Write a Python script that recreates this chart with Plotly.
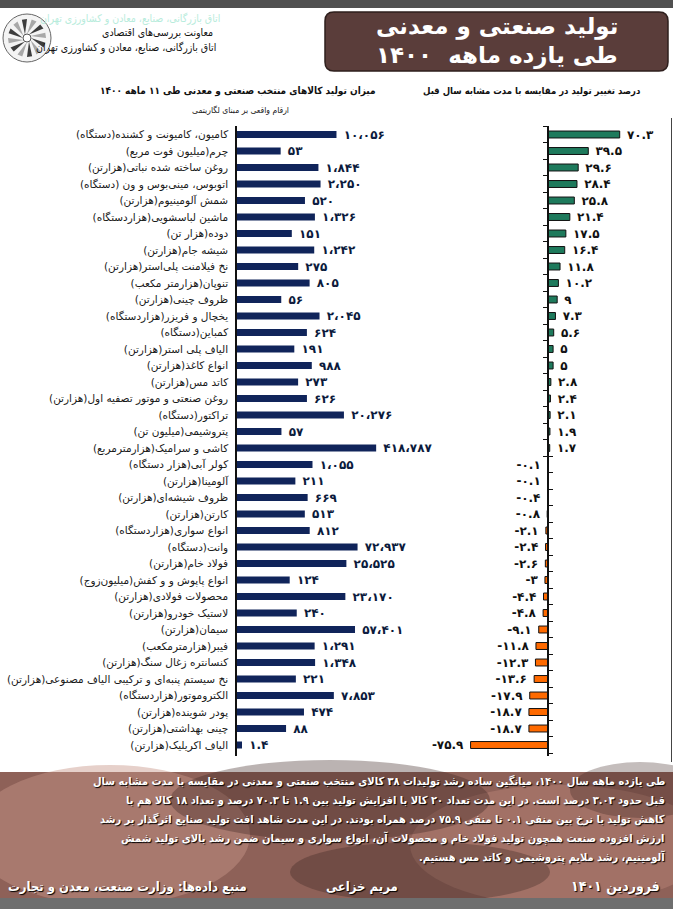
import math
import plotly.graph_objects as go

# ---------------- data ----------------
categories = [
    "کامیون، کامیونت و کشنده(دستگاه)",
    "چرم(میلیون فوت مربع)",
    "روغن ساخته شده نباتی(هزارتن)",
    "اتوبوس، مینی‌بوس و ون (دستگاه)",
    "شمش آلومینیوم(هزارتن)",
    "ماشین لباسشویی(هزاردستگاه)",
    "دوده(هزار تن)",
    "شیشه جام(هزارتن)",
    "نخ فیلامنت پلی‌استر(هزارتن)",
    "تنوپان(هزارمتر مکعب)",
    "ظروف چینی(هزارتن)",
    "یخچال و فریزر(هزاردستگاه)",
    "کمباین(دستگاه)",
    "الیاف پلی استر(هزارتن)",
    "انواع کاغذ(هزارتن)",
    "کاتد مس(هزارتن)",
    "روغن صنعتی و موتور تصفیه اول(هزارتن)",
    "تراکتور(دستگاه)",
    "پتروشیمی(میلیون تن)",
    "کاشی و سرامیک(هزارمترمربع)",
    "کولر آبی(هزار دستگاه)",
    "آلومینا(هزارتن)",
    "ظروف شیشه‌ای(هزارتن)",
    "کارتن(هزارتن)",
    "انواع سواری(هزاردستگاه)",
    "وانت(دستگاه)",
    "فولاد خام(هزارتن)",
    "انواع پاپوش و و کفش(میلیون‌زوج)",
    "محصولات فولادی(هزارتن)",
    "لاستیک خودرو(هزارتن)",
    "سیمان(هزارتن)",
    "فیبر(هزارمترمکعب)",
    "کنسانتره زغال سنگ(هزارتن)",
    "نخ سیستم پنبه‌ای و ترکیبی الیاف مصنوعی(هزارتن)",
    "الکتروموتور(هزاردستگاه)",
    "پودر شوینده(هزارتن)",
    "چینی بهداشتی(هزارتن)",
    "الیاف اکریلیک(هزارتن)",
]

production = [10056, 53, 1844, 2250, 520, 1326, 151, 1242, 275, 805,
              56, 2045, 624, 191, 988, 273, 626, 20276, 57, 418787,
              1055, 211, 669, 513, 812, 72937, 25525, 124, 23170, 240,
              57401, 1291, 1348, 221, 7853, 474, 88, 1.4]

change_pct = [70.3, 39.5, 29.6, 28.4, 25.8, 21.4, 17.5, 16.4, 11.8, 10.2,
              9, 7.3, 5.6, 5, 5, 2.8, 2.4, 2.1, 1.9, 1.7,
              -0.1, -0.1, -0.4, -0.8, -2.1, -2.4, -2.6, -3, -4.4, -4.8,
              -9.1, -11.8, -12.3, -13.6, -17.9, -18.7, -18.7, -75.9]

# ---------------- helpers ----------------
W, H = 673, 909
FONT = "DejaVu Sans"
FONTC = "DejaVu Sans Condensed"
RLM = "\u200f"
FA = str.maketrans("0123456789", "۰۱۲۳۴۵۶۷۸۹")


def fa(s):
    return str(s).translate(FA)


def px(x):
    return x / W


def py(y):
    return 1 - y / H


def fmt_prod(v):
    if float(v).is_integer():
        return fa(f"{int(v):,}".replace(",", "،"))
    return fa(f"{v}")


idx = list(range(len(categories)))
prod_text = [" " + fmt_prod(v) for v in production]
chg_text = [(" " + fa(f"{v:g}")) if v >= 0 else (fa(f"{v:g}") + " ")
            for v in change_pct]
chg_colors = ["#1e7a5c" if v >= 0 else "#ff6a00" for v in change_pct]
labels = [RLM + c + RLM for c in categories]

row0, step = 134.5, 16.5
top_px, bot_px = 126, 756
yr = [(bot_px - row0) / step, (top_px - row0) / step]
ydom = [py(bot_px), py(top_px)]

fig = go.Figure()

fig.add_trace(go.Bar(
    x=production, y=idx, orientation="h", xaxis="x", yaxis="y",
    marker=dict(color="#10245a", line=dict(width=0)), width=0.42,
    text=prod_text, textposition="outside", cliponaxis=False, constraintext="none",
    textfont=dict(family=FONT, size=12, color="#0b1a3c", weight="bold"),
    hoverinfo="skip", showlegend=False,
))

fig.add_trace(go.Bar(
    x=change_pct, y=idx, orientation="h", xaxis="x2", yaxis="y2",
    marker=dict(color=chg_colors, line=dict(color="#111", width=1)), width=0.42,
    text=chg_text, textposition="outside", cliponaxis=False, constraintext="none",
    textfont=dict(family=FONT, size=12, color="#111", weight="bold"),
    hoverinfo="skip", showlegend=False,
))
fig.add_trace(go.Scatter(x=[None], y=[None], xaxis="x2", yaxis="y3",
                         showlegend=False, hoverinfo="skip"))

lx0 = -0.058
lx1 = lx0 + (420 - 237) / 24.5
zero_px, ppu = 548, 1.02
x2r = [-(zero_px - 430) / ppu, (670 - zero_px) / ppu]

bounds_top = [i - 0.5 for i in range(0, 21)]
bounds_bot = [i + 0.5 for i in range(19, 38)]

fig.update_layout(
    width=W, height=H, margin=dict(l=0, r=0, t=0, b=0),
    paper_bgcolor="white", plot_bgcolor="rgba(0,0,0,0)",
    font=dict(family=FONT, color="#222"),
    xaxis=dict(type="log", domain=[px(237), px(420)], range=[lx0, lx1],
               visible=False, anchor="y"),
    yaxis=dict(domain=ydom, range=yr, anchor="x", tickmode="array",
               tickvals=idx, ticktext=labels, ticks="", showline=True,
               linecolor="#111", linewidth=1.5, showgrid=False, zeroline=False,
               ticklabelstandoff=5,
               tickfont=dict(family=FONT, size=10.5, color="#1a1a1a")),
    xaxis2=dict(domain=[px(430), px(670)], range=x2r, visible=False,
                anchor="y2", zeroline=False),
    yaxis2=dict(domain=ydom, range=yr, anchor="free", position=px(zero_px),
                tickmode="array", tickvals=bounds_top, ticks="outside",
                ticklen=4, tickcolor="#111", showticklabels=False,
                showline=True, linecolor="#111", linewidth=1.5,
                showgrid=False, zeroline=False),
    yaxis3=dict(domain=ydom, range=yr, anchor="free", position=px(zero_px),
                overlaying="y2", tickmode="array", tickvals=bounds_bot,
                ticks="inside", ticklen=4, tickcolor="#111",
                showticklabels=False, showline=False, showgrid=False,
                zeroline=False),
)

shapes = []
shapes.append(dict(type="rect", xref="paper", yref="paper", x0=0, x1=1,
                   y0=py(8), y1=1, fillcolor="#505050", line=dict(width=0)))
shapes.append(dict(type="line", xref="paper", yref="paper", x0=px(671.5), x1=px(671.5),
                   y0=py(762), y1=py(118), line=dict(color="#444", width=1)))

bx0, bx1, by0, by1, r = 325, 668, 12, 71, 9


def P(x, y):
    return f"{px(x):.5f},{py(y):.5f}"


path = (f"M {P(bx0 + r, by0)} L {P(bx1 - r, by0)} Q {P(bx1, by0)} {P(bx1, by0 + r)} "
        f"L {P(bx1, by1 - r)} Q {P(bx1, by1)} {P(bx1 - r, by1)} "
        f"L {P(bx0 + r, by1)} Q {P(bx0, by1)} {P(bx0, by1 - r)} "
        f"L {P(bx0, by0 + r)} Q {P(bx0, by0)} {P(bx0 + r, by0)} Z")
shapes.append(dict(type="path", xref="paper", yref="paper", path=path,
                   fillcolor="#5a3d3a", line=dict(color="#2e1f1d", width=1.5)))

cx, cy, R = 27, 38, 24
shapes.append(dict(type="circle", xref="paper", yref="paper",
                   x0=px(cx - R), x1=px(cx + R), y0=py(cy + R), y1=py(cy - R),
                   fillcolor="#f4f4f4", line=dict(color="#666", width=1)))
for i in range(12):
    a0 = math.radians(i * 30)
    a1 = math.radians(i * 30 + 30)
    pts = [(cx + 4 * math.cos(a0), cy + 4 * math.sin(a0)),
           (cx + 19 * math.cos(a0 + 0.25), cy + 19 * math.sin(a0 + 0.25)),
           (cx + 19 * math.cos(a1), cy + 19 * math.sin(a1))]
    p = "M " + " L ".join(P(x, y) for x, y in pts) + " Z"
    shapes.append(dict(type="path", xref="paper", yref="paper", path=p,
                       fillcolor="#3d3d3d" if i % 2 == 0 else "#a8a8a8",
                       line=dict(width=0)))
shapes.append(dict(type="circle", xref="paper", yref="paper",
                   x0=px(cx - 4), x1=px(cx + 4), y0=py(cy + 4), y1=py(cy - 4),
                   fillcolor="white", line=dict(color="#555", width=1)))

shapes.append(dict(type="rect", xref="paper", yref="paper", x0=0, x1=1,
                   y0=py(898), y1=py(772), fillcolor="#8e6158", line=dict(width=0),
                   layer="below"))
for (ex, ey, rx, ry, col, op) in [
    (110, 835, 140, 70, "#c8968a", 0.45),
    (560, 845, 150, 60, "#c08a7e", 0.4),
    (330, 800, 160, 40, "#3b2522", 0.35),
    (420, 872, 130, 30, "#2e1d1a", 0.3),
    (640, 790, 70, 28, "#3b2522", 0.3),
]:
    shapes.append(dict(type="circle", xref="paper", yref="paper",
                       x0=px(ex - rx), x1=px(ex + rx), y0=py(ey + ry), y1=py(ey - ry),
                       fillcolor=col, opacity=op, line=dict(width=0), layer="below"))
shapes.append(dict(type="rect", xref="paper", yref="paper", x0=0, x1=1,
                   y0=0, y1=py(898), fillcolor="#6e6e6e", line=dict(width=0)))
fig.update_layout(shapes=shapes)

ann = []


def T(text, x, y, size, color="#111", xanchor="center", bold=False, shadow=None,
      family=FONT):
    f = dict(family=family, size=size, color=color)
    if bold:
        f["weight"] = "bold"
    if shadow:
        f["shadow"] = shadow
    ann.append(dict(text=RLM + text + RLM, x=px(x), y=py(y), xref="paper",
                    yref="paper", xanchor=xanchor, yanchor="middle",
                    showarrow=False, font=f))


T("اتاق بازرگانی، صنایع، معادن و کشاورزی تهران", 222, 19, 10.5, "#b8ecdc", "right",
  family=FONTC)
T("معاونت بررسی‌های اقتصادی", 215, 33, 10.5, "#111", "right", family=FONTC)
T("اتاق بازرگانی، صنایع، معادن و کشاورزی تهران", 218, 47, 10.5, "#111", "right",
  family=FONTC)
T("تولید صنعتی و معدنی", 497, 26, 23, "white", bold=True)
T("طی یازده ماهه  ۱۴۰۰", 497, 55, 23, "white", bold=True)

T("میزان تولید کالاهای منتخب صنعتی و معدنی طی ۱۱ ماهه ۱۴۰۰", 238, 91, 10, "#111",
  bold=True, family=FONTC)
T("ارقام واقعی بر مبنای لگاریتمی", 240, 110, 8.5, "#222", family=FONTC)
T("درصد تغییر تولید در مقایسه با مدت مشابه سال قبل", 532, 91, 9.5, "#111",
  bold=True, family=FONTC)

lines = [
    "طی یازده ماهه سال ۱۴۰۰، میانگین ساده رشد تولیدات ۳۸ کالای منتخب صنعتی و معدنی در مقایسه با مدت مشابه سال",
    "قبل حدود ۳.۰۳ درصد است. در این مدت تعداد ۲۰ کالا با افزایش تولید بین ۱.۹ تا ۷۰.۳ درصد و تعداد ۱۸ کالا هم با",
    "کاهش تولید با نرخ بین منفی ۰.۱ تا منفی ۷۵.۹ درصد همراه بودند. در این مدت شاهد افت تولید صنایع اثرگذار بر رشد",
    "ارزش افزوده صنعت همچون تولید فولاد خام و محصولات آن، انواع سواری و سیمان ضمن رشد بالای تولید شمش",
    "آلومینیم، رشد ملایم پتروشیمی و کاتد مس هستیم.",
]
for k, ln in enumerate(lines):
    T(ln, 667, 781 + k * 19, 11, "white", "right", bold=True,
      shadow="1px 1px 1px #000", family=FONTC)

T("فروردین ۱۴۰۱", 662, 886, 14, "white", "right", bold=True, shadow="1px 1px 1px #000",
  family=FONTC)
T("مریم خزاعی", 362, 886, 13, "white", bold=True, shadow="1px 1px 1px #000",
  family=FONTC)
T("منبع داده‌ها: وزارت صنعت، معدن و تجارت", 6, 886, 13, "white", "left", bold=True,
  shadow="1px 1px 1px #000", family=FONTC)

fig.update_layout(annotations=ann)
fig.write_html("out.html", config={"displayModeBar": False},
               post_script="document.body.style.margin='0';document.body.style.padding='0';"
                           "document.documentElement.style.overflow='hidden';")
